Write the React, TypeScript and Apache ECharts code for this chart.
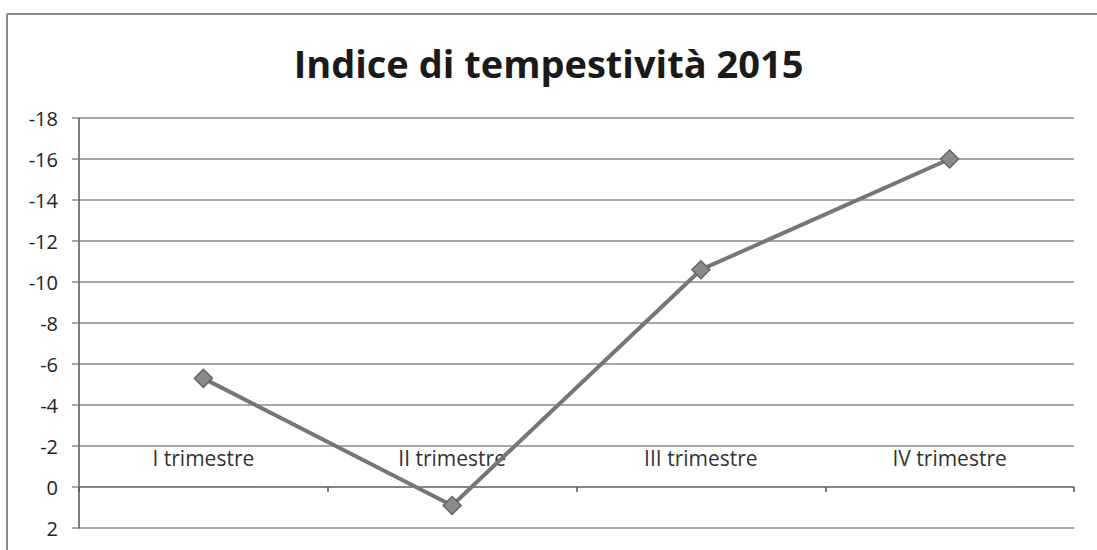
import React, { useEffect, useRef } from "react";
import * as echarts from "echarts";

const categories = ["I trimestre", "II trimestre", "III trimestre", "IV trimestre"];
const values = [-5.3, 0.9, -10.6, -16];
const titleText = "Indice di tempestività 2015";

export default function App() {
  const ref = useRef<HTMLDivElement>(null);
  useEffect(() => {
    if (!ref.current) return;
    const chart = echarts.init(ref.current, null, { renderer: "svg" });
    chart.setOption({
      animation: false,
      backgroundColor: "#ffffff",
      title: {
        text: titleText,
        left: "center",
        top: 39,
        textStyle: { fontFamily: "Open Sans", fontWeight: "bold", fontSize: 38, color: "#1a1a1a" },
      },
      graphic: [
        { type: "line", shape: { x1: 7, y1: 14, x2: 1097, y2: 14 }, style: { stroke: "#8a8a8a", lineWidth: 2 } },
        { type: "line", shape: { x1: 7, y1: 14, x2: 7, y2: 550 }, style: { stroke: "#8a8a8a", lineWidth: 2 } },
      ],
      grid: { left: 79, right: 23, top: 118, bottom: 22 },
      xAxis: [
        {
          type: "category",
          data: categories,
          boundaryGap: true,
          axisLine: { onZero: true, lineStyle: { color: "#7a7a7a", width: 1.5 } },
          axisTick: { show: true, inside: false, length: 5, lineStyle: { color: "#555", width: 1.5 } },
          axisLabel: { show: false },
        },
        {
          type: "category",
          data: categories,
          boundaryGap: true,
          position: "top",
          offset: -350,
          axisLine: { show: false, onZero: false },
          axisTick: { show: false },
          splitLine: { show: false },
          axisLabel: {
            margin: 0,
            fontFamily: "Open Sans",
            fontSize: 21,
            color: "#333",
          },
        },
      ],
      yAxis: {
        type: "value",
        inverse: true,
        min: -18,
        max: 2,
        interval: 2,
        axisLine: { show: true, lineStyle: { color: "#555", width: 1.5 } },
        axisTick: { show: true, length: 7, lineStyle: { color: "#888", width: 1.5 } },
        axisLabel: { fontFamily: "Open Sans", fontSize: 20, color: "#222", margin: 21 },
        splitLine: { show: true, lineStyle: { color: "#8a8a8a", width: 1.5 } },
      },
      series: [
        {
          type: "line",
          xAxisIndex: 0,
          data: values,
          symbol: "diamond",
          symbolSize: 18,
          lineStyle: { color: "#767676", width: 4 },
          itemStyle: { color: "#8a8a8a", borderColor: "#666", borderWidth: 1.5 },
        },
      ],
    });
    return () => chart.dispose();
  }, []);
  return <div ref={ref} style={{ position: "fixed", left: 0, top: 0, width: 1097, height: 550 }} />;
}
